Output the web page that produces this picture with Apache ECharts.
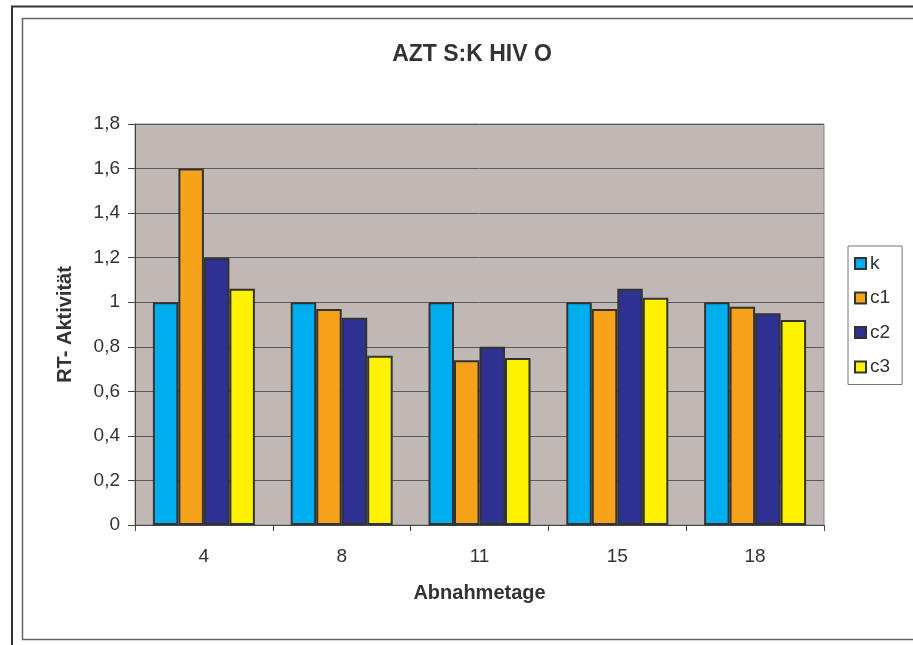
<!DOCTYPE html>
<html>
<head>
<meta charset="utf-8">
<script src="https://cdn.jsdelivr.net/npm/echarts@6/dist/echarts.min.js"></script>
<style>
  html, body { margin: 0; padding: 0; background: #fff; }
  #chart { width: 913px; height: 645px; }
</style>
</head>
<body>
<div id="chart"></div>
<script>
const days = ['4', '8', '11', '15', '18']
const k = [1, 1, 1, 1, 1]
const c1 = [1.6, 0.97, 0.74, 0.97, 0.98]
const c2 = [1.2, 0.93, 0.8, 1.06, 0.95]
const c3 = [1.06, 0.76, 0.75, 1.02, 0.92]

const seriesNames = ['k', 'c1', 'c2', 'c3']
const seriesData = [k, c1, c2, c3]
const colors = ['#00AEEF', '#F7A21B', '#2E3192', '#FFF200']

const myChart = echarts.init(document.getElementById('chart'))
const font = 'Liberation Sans, Arial, sans-serif'

const option = {
  animation: false,
  textStyle: { fontFamily: font },
  graphic: [
    // outer frame (page border)
    { type: 'polyline', shape: { points: [[12, 645], [12, 6.5], [913, 6.5]] },
      style: { stroke: '#333', lineWidth: 2, fill: null } },
    { type: 'rect', shape: { x: 22.5, y: 18.5, width: 900, height: 621 },
      style: { stroke: '#666', lineWidth: 1.5, fill: null } }
  ],
  title: {
    text: 'AZT S:K HIV O',
    left: 467,
    textAlign: 'center',
    top: 38,
    textStyle: { fontSize: 23, fontWeight: 'bold', color: '#333', fontFamily: font }
  },
  legend: {
    orient: 'vertical',
    left: 848,
    top: 246,
    padding: [8, 12, 8, 6],
    itemWidth: 11,
    itemHeight: 11,
    itemGap: 15.5,
    icon: 'rect',
    borderColor: '#777',
    borderWidth: 1,
    data: seriesNames,
    textStyle: { fontSize: 19, color: '#333', fontFamily: font, padding: [0, 0, 0, -1] }
  },
  grid: {
    left: 135,
    right: 89,
    top: 124,
    bottom: 120,
    show: true,
    backgroundColor: '#C0B8B5',
    borderColor: '#8a8a8a',
    borderWidth: 1
  },
  xAxis: {
    type: 'category',
    data: days,
    name: 'Abnahmetage',
    nameLocation: 'middle',
    nameGap: 58,
    nameTextStyle: { fontSize: 20, fontWeight: 'bold', color: '#333', fontFamily: font },
    axisLine: { lineStyle: { color: '#444', width: 1 } },
    axisTick: { show: true, length: 6, inside: false, lineStyle: { color: '#444' } },
    axisLabel: { fontSize: 19, color: '#333', margin: 22, fontFamily: font }
  },
  yAxis: {
    type: 'value',
    min: 0,
    max: 1.8,
    interval: 0.2,
    name: 'RT- Aktivität',
    nameLocation: 'middle',
    nameGap: 60,
    nameTextStyle: { fontSize: 20, fontWeight: 'bold', color: '#333', fontFamily: font },
    axisLine: { show: true, lineStyle: { color: '#444', width: 1 } },
    axisTick: { show: true, length: 7, lineStyle: { color: '#444' } },
    axisLabel: {
      fontSize: 19,
      color: '#333',
      margin: 15,
      fontFamily: font,
      formatter: v => String(Math.round(v * 10) / 10).replace('.', ',')
    },
    splitLine: { show: true, lineStyle: { color: '#5a5a5a', width: 1 } }
  },
  series: seriesNames.map((name, i) => ({
    name: name,
    type: 'bar',
    data: seriesData[i],
    barWidth: 25.5,
    barGap: '0%',
    itemStyle: { color: colors[i], borderColor: '#333', borderWidth: 2 }
  }))
}
option && myChart.setOption(option)
</script>
</body>
</html>
